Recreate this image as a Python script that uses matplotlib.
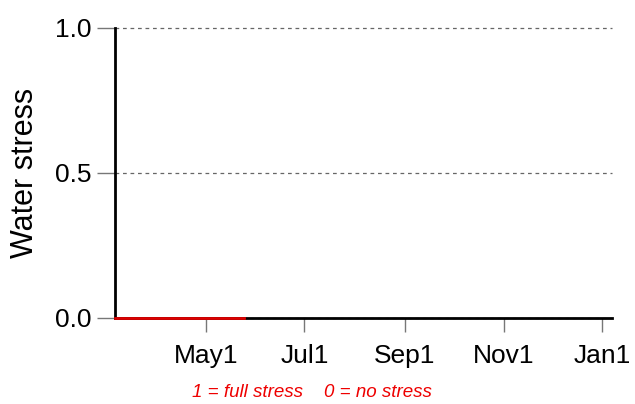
import matplotlib
matplotlib.use("Agg")
import matplotlib.pyplot as plt

# Data (day of year)
days = [65, 145]
stress = [0.0, 0.0]
tick_days = [121, 182, 244, 305, 366]
tick_labels = ["May1", "Jul1", "Sep1", "Nov1", "Jan1"]
y_ticks = [0.0, 0.5, 1.0]
y_labels = ["0.0", "0.5", "1.0"]

plt.rcParams['font.family'] = ['Liberation Sans', 'DejaVu Sans']
fig = plt.figure(figsize=(6.35, 4.04), dpi=100)
ax = fig.add_axes([0.181, 0.213, 0.783, 0.718])
ax.set_xlim(65, 372)
ax.set_ylim(0, 1)

for y in y_ticks:
    ax.axhline(y, color='#666666', lw=0.9, ls=(0, (3, 3)), zorder=1, clip_on=False)

ax.plot(days, stress, color='#dd0000', lw=2, zorder=5, clip_on=False)

for s in ['top', 'right']:
    ax.spines[s].set_visible(False)
ax.spines['left'].set_linewidth(2)
ax.spines['bottom'].set_linewidth(2)
ax.spines['left'].set_zorder(3)
ax.spines['bottom'].set_zorder(3)

ax.set_xticks(tick_days)
ax.set_xticklabels(tick_labels)
ax.set_yticks(y_ticks)
ax.set_yticklabels(y_labels)
ax.tick_params(axis='x', length=10, width=1, color='#777777', labelsize=19, pad=9)
ax.tick_params(axis='y', length=13, width=1, color='#777777', labelsize=19, pad=4)
ax.set_ylabel("Water stress", fontsize=22, labelpad=11)

fig.text(0.491, 0.008, "1 = full stress    0 = no stress", color='#ee0000',
         fontsize=13.5, style='italic', ha='center', va='bottom')

fig.savefig("out.png", dpi=100)
